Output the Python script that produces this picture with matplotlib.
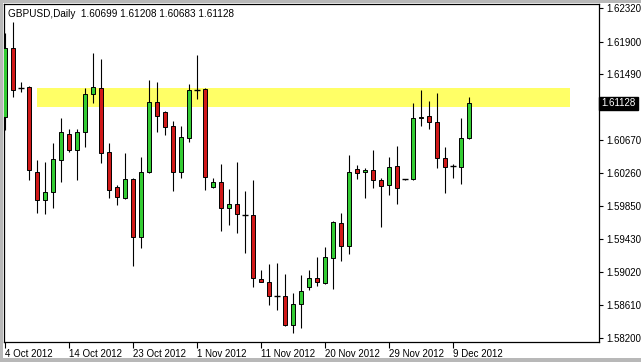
import matplotlib
matplotlib.use("Agg")
import matplotlib.pyplot as plt
from matplotlib.patches import Rectangle

plt.rcParams['font.family'] = ['Liberation Sans', 'DejaVu Sans']

# GBPUSD daily bars, 4 Oct 2012 .. 11 Dec 2012 (Sunday bars included)
opens = [1.60959, 1.61821, 1.61318, 1.61334, 1.60272, 1.59923, 1.60023, 1.60422, 1.60747, 1.60547,
         1.60772, 1.61246, 1.61321, 1.60522, 1.60085, 1.59948, 1.60185, 1.59461, 1.60272, 1.61146,
         1.61022, 1.60847, 1.60272, 1.60697, 1.61293, 1.61309, 1.60085, 1.60148, 1.59823, 1.59873,
         1.59733, 1.59736, 1.58937, 1.58899, 1.58722, 1.58724, 1.58362, 1.58624, 1.58837, 1.58949,
         1.58887, 1.59199, 1.59636, 1.59349, 1.60310, 1.60272, 1.60297, 1.60173, 1.60110, 1.60347,
         1.60183, 1.60185, 1.60947, 1.60972, 1.60897, 1.60447, 1.60344, 1.60335, 1.60699]
highs = [1.62008, 1.62145, 1.61396, 1.61346, 1.60422, 1.60397, 1.60635, 1.60947, 1.60809, 1.60809,
         1.61321, 1.61758, 1.61683, 1.60635, 1.60110, 1.60510, 1.60198, 1.60460, 1.61421, 1.61396,
         1.61030, 1.60909, 1.60847, 1.61371, 1.61733, 1.61315, 1.60198, 1.60372, 1.60060, 1.60397,
         1.60035, 1.60173, 1.59049, 1.59124, 1.59136, 1.58999, 1.58762, 1.58987, 1.59049, 1.59211,
         1.59336, 1.59661, 1.59761, 1.60485, 1.60360, 1.60322, 1.60547, 1.60198, 1.60460, 1.60597,
         1.60190, 1.61134, 1.61296, 1.61159, 1.61259, 1.60585, 1.60372, 1.60947, 1.61208]
lows = [1.60797, 1.61209, 1.61271, 1.60173, 1.59761, 1.59748, 1.59823, 1.60148, 1.60522, 1.60173,
        1.60585, 1.61134, 1.60385, 1.59948, 1.59860, 1.59940, 1.59099, 1.59324, 1.60260, 1.60772,
        1.60734, 1.60035, 1.60198, 1.60647, 1.61184, 1.60048, 1.60073, 1.59536, 1.59611, 1.59511,
        1.59261, 1.58837, 1.58895, 1.58612, 1.58550, 1.58355, 1.58262, 1.58325, 1.58799, 1.58849,
        1.58880, 1.58812, 1.59161, 1.59249, 1.60185, 1.59948, 1.60073, 1.59586, 1.59985, 1.59873,
        1.60178, 1.60173, 1.60847, 1.60809, 1.60322, 1.60010, 1.60198, 1.60123, 1.60683]
closes = [1.61821, 1.61296, 1.61318, 1.60297, 1.59923, 1.60023, 1.60435, 1.60772, 1.60547, 1.60772,
          1.61246, 1.61334, 1.60510, 1.60048, 1.59960, 1.60185, 1.59461, 1.60272, 1.61146, 1.60972,
          1.60834, 1.60272, 1.60709, 1.61296, 1.61293, 1.60210, 1.60148, 1.59823, 1.59873, 1.59748,
          1.59733, 1.58949, 1.58899, 1.58724, 1.58722, 1.58362, 1.58624, 1.58787, 1.58949, 1.58899,
          1.59211, 1.59648, 1.59349, 1.60272, 1.60260, 1.60297, 1.60173, 1.60098, 1.60335, 1.60073,
          1.60183, 1.60947, 1.60959, 1.60897, 1.60447, 1.60335, 1.60344, 1.60697, 1.61128]

date_tick_idx = [0, 8, 16, 24, 32, 40, 48, 56]
date_tick_labels = ['4 Oct 2012', '14 Oct 2012', '23 Oct 2012', '1 Nov 2012',
                    '11 Nov 2012', '20 Nov 2012', '29 Nov 2012', '9 Dec 2012']
price_ticks = [1.62320, 1.61900, 1.61490, 1.61080, 1.60670, 1.60260,
               1.59850, 1.59430, 1.59020, 1.58610, 1.58200]

zone_lo = 1.61084
zone_hi = 1.61321
zone_start = 4.0
zone_end = 70.6
last_price = 1.61128

up_color = '#33cc33'
down_color = '#d01818'

fig = plt.figure(figsize=(6.41, 3.62), dpi=100)
ax = fig.add_axes([4 / 641, 20 / 362, 595 / 641, 338 / 362])

ax.add_patch(Rectangle((zone_start, zone_lo), zone_end - zone_start, zone_hi - zone_lo,
                       facecolor='#ffff66', edgecolor='none', zorder=1))

for i in range(len(opens)):
    o, h, l, c = opens[i], highs[i], lows[i], closes[i]
    ax.vlines(i, l, h, color='black', linewidth=0.8, zorder=2)
    if o == c:
        ax.hlines(o, i - 0.32, i + 0.32, color='black', linewidth=1.0, zorder=3)
    else:
        col = up_color if c > o else down_color
        ax.bar(i, abs(c - o), bottom=min(o, c), width=0.6, color=col,
               edgecolor='black', linewidth=0.7, zorder=3)

ax.set_xlim(-0.125, 74.25)
ax.set_ylim(1.58150, 1.62370)

# the tick label under the current price box is covered in the original
ax.yaxis.tick_right()
ax.set_yticks(price_ticks)
ax.set_yticklabels(['' if abs(p - last_price) < 0.001 else '%.5f' % p for p in price_ticks])
ax.tick_params(axis='y', direction='out', length=3, width=0.8, pad=2, labelsize=7)

ax.set_xticks(date_tick_idx)
ax.set_xticklabels(date_tick_labels, ha='left')
ax.tick_params(axis='x', direction='out', length=4, width=0.8, pad=1, labelsize=7)

for s in ax.spines.values():
    s.set_linewidth(0.9)
    s.set_color('black')

# current price marker
ax.text(1.004, last_price, '%.5f' % last_price, transform=ax.get_yaxis_transform(),
        ha='left', va='center', fontsize=7, color='white', zorder=10, clip_on=False,
        bbox=dict(boxstyle='square,pad=0.2', facecolor='black', edgecolor='black'))

ax.text(0.007, 0.985, 'GBPUSD,Daily  1.60699 1.61208 1.60683 1.61128',
        transform=ax.transAxes, ha='left', va='top', fontsize=7.2, color='black')

# window frame
fig.patches.append(Rectangle((0, 0), 3 / 641, 1, transform=fig.transFigure,
                             facecolor='#b8b8b8', edgecolor='none'))
fig.patches.append(Rectangle((0, 1 - 3 / 362), 1, 3 / 362, transform=fig.transFigure,
                             facecolor='#b8b8b8', edgecolor='none'))
fig.patches.append(Rectangle((0, 0), 1, 4 / 362, transform=fig.transFigure,
                             facecolor='#b8b8b8', edgecolor='none'))

fig.savefig('out.png', dpi=100)
